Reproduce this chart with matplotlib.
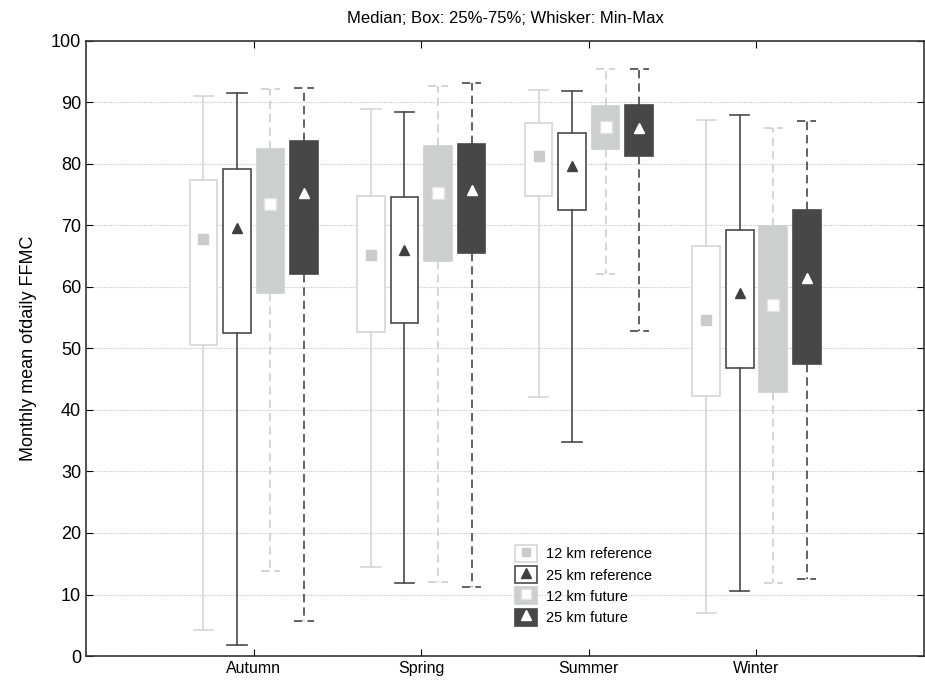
import matplotlib.pyplot as plt
from matplotlib.patches import Rectangle
from matplotlib.lines import Line2D

plt.rcParams['font.family'] = ['Liberation Sans', 'DejaVu Sans']

seasons = ["Autumn", "Spring", "Summer", "Winter"]
series = ["12 km reference", "25 km reference", "12 km future", "25 km future"]

# per series: min, q1, median, q3, max for each season
mins = {
    "12 km reference": [4.2, 14.5, 42.1, 7.0],
    "25 km reference": [1.8, 11.9, 34.8, 10.6],
    "12 km future": [13.8, 12.1, 62.1, 11.9],
    "25 km future": [5.7, 11.3, 52.8, 12.6],
}
q1s = {
    "12 km reference": [50.5, 52.6, 74.8, 42.3],
    "25 km reference": [52.5, 54.2, 72.5, 46.9],
    "12 km future": [59.1, 64.3, 82.4, 42.9],
    "25 km future": [62.1, 65.6, 81.3, 47.4],
}
medians = {
    "12 km reference": [67.8, 65.2, 81.3, 54.6],
    "25 km reference": [69.6, 66.0, 79.6, 59.1],
    "12 km future": [73.5, 75.2, 86.0, 57.1],
    "25 km future": [75.3, 75.7, 85.8, 61.4],
}
q3s = {
    "12 km reference": [77.4, 74.8, 86.6, 66.6],
    "25 km reference": [79.2, 74.6, 85.0, 69.2],
    "12 km future": [82.5, 82.9, 89.4, 69.9],
    "25 km future": [83.8, 83.3, 89.6, 72.5],
}
maxs = {
    "12 km reference": [91.1, 88.9, 92.1, 87.2],
    "25 km reference": [91.6, 88.5, 91.9, 87.9],
    "12 km future": [92.2, 92.6, 95.4, 85.9],
    "25 km future": [92.4, 93.2, 95.4, 87.0],
}

# styles: box fill, box edge, whisker color, whisker style, marker, marker face, marker edge, marker size
styles = {
    "12 km reference": ("white", "#d6d6d6", "#d6d6d6", "-", "s", "#cbcbcb", "#cbcbcb", 6.5),
    "25 km reference": ("white", "#4a4a4a", "#4a4a4a", "-", "^", "#404040", "#404040", 7.5),
    "12 km future": ("#cdcfce", "#cdcfce", "#cdcfce", (0, (5, 3)), "s", "white", "#e2e2e2", 8.5),
    "25 km future": ("#474747", "#474747", "#474747", (0, (5, 3)), "^", "white", "white", 7.5),
}
offsets = [-0.3, -0.1, 0.1, 0.3]

fig = plt.figure(figsize=(9.25, 6.88), dpi=100)
ax = fig.add_axes([0.093, 0.0465, 0.906, 0.894])

handles = []
for s, off in zip(series, offsets):
    fill, edge, wcol, wls, mk, mfc, mec, ms = styles[s]
    stats = []
    for i in range(len(seasons)):
        stats.append({
            "whislo": mins[s][i], "q1": q1s[s][i], "med": medians[s][i],
            "q3": q3s[s][i], "whishi": maxs[s][i], "fliers": [],
        })
    pos = [i + 1 + off for i in range(len(seasons))]
    ax.bxp(stats, positions=pos, widths=0.165, patch_artist=True,
           showfliers=False, manage_ticks=False,
           boxprops=dict(facecolor=fill, edgecolor=edge, linewidth=1.2),
           whiskerprops=dict(color=wcol, linestyle=wls, linewidth=1.2),
           capprops=dict(color=wcol, linestyle=wls, linewidth=1.2),
           capwidths=0.115,
           medianprops=dict(linewidth=0))
    ax.plot(pos, medians[s], linestyle="none", marker=mk, markersize=ms,
            markerfacecolor=mfc, markeredgecolor=mec, markeredgewidth=1.0,
            zorder=5)
    box_h = Rectangle((0, 0), 1, 1, facecolor=fill, edgecolor=edge, linewidth=1.2)
    mark_h = Line2D([], [], linestyle="none", marker=mk, markersize=ms - 1,
                    markerfacecolor=mfc, markeredgecolor=mec)
    handles.append((box_h, mark_h))

ax.set_xlim(0, 5)
ax.set_ylim(0, 100)
ax.set_xticks(range(1, len(seasons) + 1))
ax.set_xticklabels(seasons, fontsize=11.5)
ax.set_yticks(range(0, 101, 10))
ax.tick_params(axis="y", labelsize=13, direction="in", right=True, length=5)
ax.tick_params(axis="x", direction="in", top=True, length=5)
ax.yaxis.grid(True, linestyle=(0, (1, 1)), color="#c8c8c8", linewidth=0.8)
ax.set_axisbelow(True)
for sp in ax.spines.values():
    sp.set_color("#333333")
    sp.set_linewidth(1.2)

ax.set_ylabel("Monthly mean ofdaily FFMC", fontsize=13, labelpad=10)
ax.set_title("Median; Box: 25%-75%; Whisker: Min-Max", fontsize=12, pad=13)

ax.legend(handles, series, loc="upper left", bbox_to_anchor=(0.5, 0.197),
          frameon=False, fontsize=10.5, handlelength=1.5, handleheight=1.4,
          labelspacing=0.3, handletextpad=0.6, borderpad=0.2)

fig.savefig("out.png", dpi=100)
